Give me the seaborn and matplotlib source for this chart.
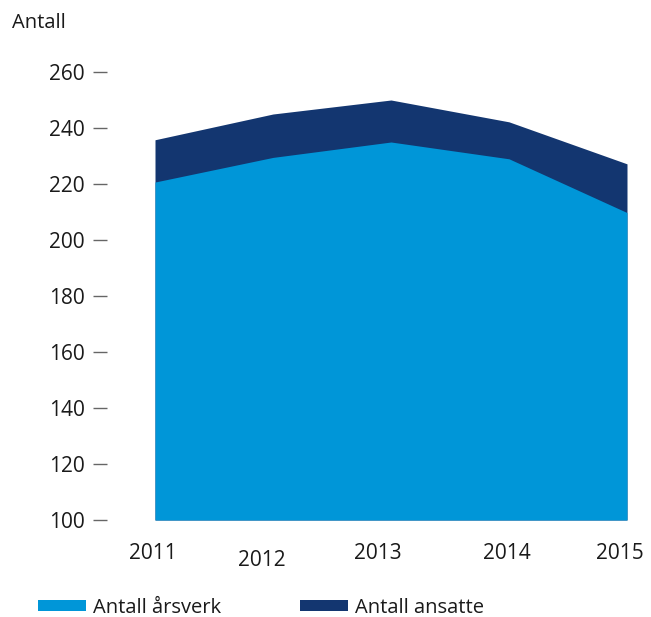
import matplotlib
matplotlib.use("Agg")
import matplotlib.pyplot as plt
from matplotlib.patches import Patch
import matplotlib.transforms as mtransforms
import seaborn as sns
import pandas as pd

years = [2011, 2012, 2013, 2014, 2015]
arsverk = [220.7, 229.5, 235.0, 229.0, 209.8]
ansatte = [235.8, 245.0, 250.0, 242.2, 227.2]
y_ticks = [100, 120, 140, 160, 180, 200, 220, 240, 260]
series_names = ["Antall årsverk", "Antall ansatte"]
colors = ["#0096d8", "#133670"]

df = pd.DataFrame({"år": years, "årsverk": arsverk, "ansatte": ansatte})

sns.set_theme(style="white")
plt.rcParams["font.family"] = ["Open Sans", "DejaVu Sans"]

DPI = 100
PX = 72 / DPI  # points per pixel

fig = plt.figure(figsize=(6.51, 6.17), dpi=DPI)
ax = fig.add_axes([155 / 651, 1 - 520 / 617, (627 - 155) / 651, (520 - 72) / 617])

base = 100
ax.fill_between(df["år"], base, df["ansatte"], color=colors[1], linewidth=0)
ax.fill_between(df["år"], base, df["årsverk"], color=colors[0], linewidth=0)

ax.set_xlim(2011, 2015)
ax.set_ylim(100, 260)

for s in ["top", "right", "bottom", "left"]:
    ax.spines[s].set_visible(False)
ax.spines["left"].set_position(("outward", 48 * PX))

ax.set_yticks(y_ticks)
ax.set_yticklabels([str(v) for v in y_ticks], fontsize=15, color="#1a1a1a")
ax.tick_params(axis="y", left=True, length=14 * PX, width=1.0, color="#666666", pad=8 * PX)

ax.set_xticks(years)
ax.set_xticklabels([str(y) for y in years], fontsize=15, color="#1a1a1a")
ax.tick_params(axis="x", bottom=False, pad=15 * PX)

# hand-placed year labels: small horizontal nudges, 2012 set a little lower
label_nudge = {"2011": (-2, 0), "2012": (-11, -7), "2013": (-13, 0), "2014": (-2, 0), "2015": (-7, 0)}
for lbl in ax.get_xticklabels():
    dx, dy = label_nudge.get(lbl.get_text(), (0, 0))
    lbl.set_transform(lbl.get_transform() + mtransforms.ScaledTranslation(dx / DPI, dy / DPI, fig.dpi_scale_trans))

ax.set_xlabel("")
ax.set_ylabel("")

fig.text(12 / 651, 1 - 23 / 617, "Antall", fontsize=14.5, color="#1a1a1a", va="center", ha="left")

handles = [Patch(facecolor=c, edgecolor="none") for c in colors]
fig.legend(handles, series_names, loc="center left", bbox_to_anchor=(38 / 651, 1 - 608 / 617),
           ncol=2, frameon=False, fontsize=14.5, borderpad=0, borderaxespad=0,
           handlelength=2.4, handleheight=0.45, handletextpad=0.35, columnspacing=3.9,
           labelcolor="#1a1a1a")

fig.savefig("out.png", dpi=DPI)
